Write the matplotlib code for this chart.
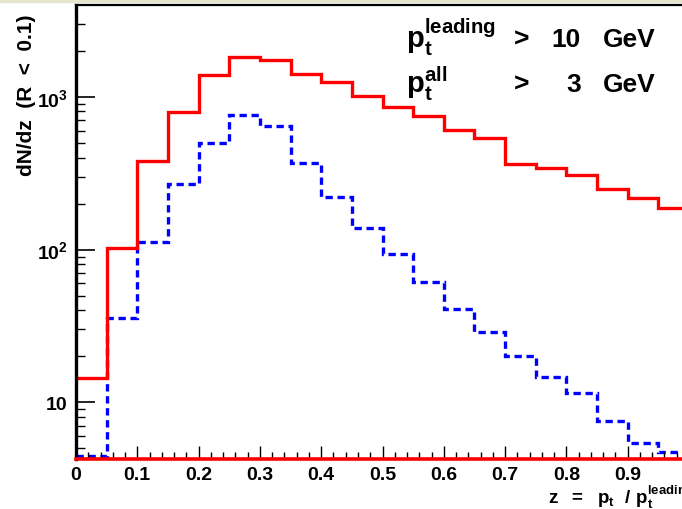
import matplotlib
matplotlib.use('Agg')
import matplotlib.pyplot as plt
import numpy as np
from matplotlib.ticker import FixedLocator, LogLocator, NullFormatter

plt.rcParams['font.family'] = ['Liberation Sans', 'DejaVu Sans']
plt.rcParams['font.weight'] = 'bold'
plt.rcParams['mathtext.fontset'] = 'custom'
plt.rcParams['mathtext.rm'] = 'Liberation Sans'
plt.rcParams['mathtext.bf'] = 'Liberation Sans:bold'
plt.rcParams['mathtext.it'] = 'Liberation Sans:bold'

# bin edges in z = pt / pt_leading
edges = np.round(np.arange(0, 1.0001, 0.05), 2)

# dN/dz, pt_leading > 10 GeV, pt_all > 3 GeV (red, solid)
red_counts = [14.4, 103, 377, 793, 1388, 1830, 1738, 1408, 1254, 1006,
              860, 747, 601, 533, 365, 344, 308, 249, 218, 188]
# second sample (blue, dashed)
blue_counts = [4.47, 35.6, 112, 268, 501, 764, 647, 367, 222, 139,
               93.3, 61.5, 40.9, 28.9, 20.0, 14.6, 11.5, 7.5, 5.42, 4.71]

x_major = [0, 0.1, 0.2, 0.3, 0.4, 0.5, 0.6, 0.7, 0.8, 0.9]
x_labels = ['0', '0.1', '0.2', '0.3', '0.4', '0.5', '0.6', '0.7', '0.8', '0.9']

W, H = 682, 510
fig = plt.figure(figsize=(W / 100, H / 100), dpi=100)
fig.patches.append(plt.Rectangle((0, 1 - 3 / H), 1, 3 / H, transform=fig.transFigure,
                                 color='#e6e6cc', zorder=0))

ax = fig.add_axes([76 / W, 50 / H, 613 / W, 454 / H])
ax.set_yscale('log')
ax.stairs(blue_counts, edges, baseline=None, color='#0000ff', lw=2.4,
          linestyle=(0, (2.2, 1.4)))
ax.stairs(red_counts, edges, baseline=None, color='#ff0000', lw=2.4)
ax.set_xlim(0, 1.0)
ax.set_ylim(4.26, 3980)

ax.xaxis.set_major_locator(FixedLocator(x_major))
ax.set_xticklabels(x_labels)
ax.xaxis.set_minor_locator(FixedLocator(np.arange(0, 1.0, 0.02)))
ax.yaxis.set_minor_locator(LogLocator(base=10, subs=np.arange(2, 10), numticks=20))
ax.yaxis.set_minor_formatter(NullFormatter())
ax.set_yticks([10, 100, 1000])
ax.set_yticklabels(['10', r'$\mathbf{10}^{\mathrm{2}}$', r'$\mathbf{10}^{\mathrm{3}}$'])

ax.tick_params(axis='x', which='major', direction='in', length=9.5, width=1.0,
               labelsize=14, pad=5, top=False)
ax.tick_params(axis='x', which='minor', direction='in', length=5, width=1.0, top=False)
ax.tick_params(axis='y', which='major', direction='in', length=13.5, width=1.2,
               labelsize=14, pad=6, right=False)
ax.tick_params(axis='y', which='minor', direction='in', length=6.5, width=1.0, right=False)
for lab in ax.get_xticklabels() + ax.get_yticklabels():
    lab.set_fontweight('bold')

ax.spines['left'].set_linewidth(2.4)
ax.spines['bottom'].set_linewidth(2.6)
ax.spines['bottom'].set_color('#ff0000')
ax.spines['top'].set_linewidth(1.6)
ax.spines['right'].set_visible(False)


def px(x, y):
    return x / W, 1 - y / H


fig.text(*px(27, 14), 'dN/dz  (R  <  0.1)', rotation=90, ha='center', va='top',
         fontsize=15, fontweight='bold')

fs = 19
fig.text(*px(406, 48), r'$\mathbf{p}_{\mathbf{t}}^{\mathrm{leading}}$', fontsize=fs + 2,
         ha='left', va='baseline')
fig.text(*px(514, 47), '>', fontsize=fs, ha='left', va='baseline', fontweight='bold')
fig.text(*px(581, 47), '10', fontsize=fs, ha='right', va='baseline', fontweight='bold')
fig.text(*px(603, 47), 'GeV', fontsize=fs, ha='left', va='baseline', fontweight='bold')
fig.text(*px(406, 93), r'$\mathbf{p}_{\mathbf{t}}^{\mathrm{all}}$', fontsize=fs + 2,
         ha='left', va='baseline')
fig.text(*px(514, 92), '>', fontsize=fs, ha='left', va='baseline', fontweight='bold')
fig.text(*px(581, 92), '3', fontsize=fs, ha='right', va='baseline', fontweight='bold')
fig.text(*px(603, 92), 'GeV', fontsize=fs, ha='left', va='baseline', fontweight='bold')

fig.text(*px(548, 504),
         r'$\mathbf{z\ \ =\ \ p}_{\mathbf{t}}\ \ \mathbf{/\ p}_{\mathbf{t}}^{\mathrm{leading}}$',
         fontsize=13.5, ha='left', va='baseline')

fig.savefig('out.png', dpi=100)
